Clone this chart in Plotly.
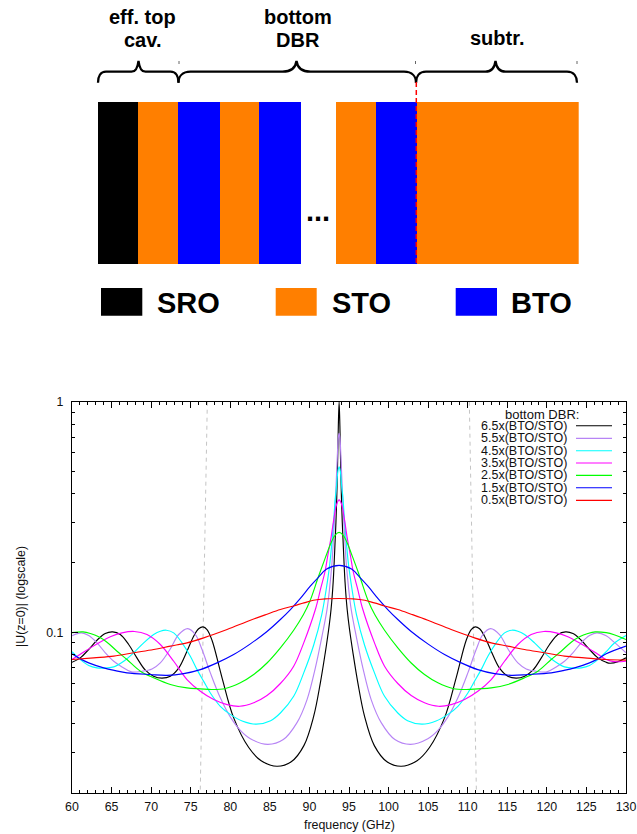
import plotly.graph_objects as go

# ---------- data: resonance curves (frequency in GHz, |U|) ----------
x_65 = [60,61.05,62.1,63.16,64.2,65.14,66.1,67.16,68.2,69.27,70.3,71.37,72.43,73.5,74.53,75.37,76.0,76.55,77.06,77.69,78.96,80.43,82.33,83.9,85.9,87.7,89.3,90.54,91.38,92.0,92.43,92.73,93.0,93.25,93.35,93.45,93.55,93.65,93.75,
        93.85,93.95,94.05,94.15,94.25,94.5,94.77,95.07,95.5,96.12,96.96,98.2,99.8,101.6,103.6,105.17,107.07,108.54,109.81,110.44,110.95,111.5,112.13,112.97,114.0,115.07,116.13,117.2,118.23,119.3,120.34,121.4,122.36,123.3,124.34,125.4,126.45,127.5,128,129,130]
y_65 = [.074,.0774,.0841,.0923,.0987,.1003,.0977,.0884,.0774,.0684,.0644,.0632,.0644,.07,.0827,.0961,.1035,.1055,.1027,.0923,.0634,.0425,.0316,.0277,.0262,.0274,.0322,.0432,.0603,.0814,.1027,.1254,.165,.25,.3,.38,.52,.78,1.0,
        .78,.52,.38,.3,.25,.165,.1254,.1027,.0814,.0603,.0432,.0322,.0274,.0262,.0277,.0316,.0425,.0634,.0923,.1027,.1055,.1035,.0961,.0827,.07,.0644,.0632,.0644,.0684,.0774,.0884,.0977,.1003,.0987,.0923,.0841,.0774,.074,.0733,.0745,.0774]

x_55 = [60,61.18,62.11,63.16,64.21,65.27,66.32,67.5,68.85,70.11,71.16,72.43,73.48,74.62,75.59,76.43,77.48,78.74,80.0,81.27,82.54,84.73,86.7,88.43,89.7,90.75,91.59,92.22,92.55,92.85,93.05,93.25,93.4,93.55,93.65,93.75,
        93.85,93.95,94.1,94.25,94.45,94.65,94.95,95.28,95.91,96.75,97.8,99.07,100.8,102.77,104.96,106.23,107.5,108.76,110.02,111.07,111.91,112.88,114.02,115.07,116.34,117.39,118.65,120,121.18,122.23,123.29,124.34,125.39,126.32,127.5,128.5,130]
y_55 = [.0965,.0993,.0967,.0899,.0814,.0748,.0707,.0673,.0677,.0693,.0736,.0847,.0977,.1037,.0977,.0841,.0666,.0519,.0429,.0375,.0345,.0326,.0342,.0405,.051,.07,.0961,.1254,.155,.2,.26,.35,.46,.61,.70,.73,
        .70,.61,.46,.35,.26,.2,.155,.1254,.0961,.07,.051,.0405,.0342,.0326,.0345,.0375,.0429,.0519,.0666,.0841,.0977,.1037,.0977,.0847,.0736,.0693,.0677,.0673,.0707,.0748,.0814,.0899,.0967,.0993,.0965,.0905,.0814]

x_45 = [60,61.05,62.11,63.16,64.0,65.27,66.53,67.79,69.06,70.32,71.16,71.92,72.85,73.9,74.95,75.8,76.64,77.48,78.74,80.0,81.5,83.29,85.1,86.33,88.01,89.28,90.54,91.55,92.1,92.6,93.05,93.25,93.45,93.6,93.75,
        93.9,94.05,94.25,94.45,94.9,95.4,95.95,96.96,98.22,99.49,101.17,102.4,104.21,106,107.5,108.76,110.02,110.86,111.7,112.55,113.6,114.65,115.58,116.34,117.18,118.44,119.71,120.97,122.23,123.5,124.34,125.39,126.45,127.5,128.5,130]
y_45 = [.0823,.0761,.0717,.07,.0698,.0707,.0748,.0814,.0899,.0977,.101,.102,.0993,.0899,.0787,.0688,.0612,.0545,.0477,.044,.0412,.0399,.0413,.0446,.0527,.0666,.088,.119,.152,.202,.30,.376,.44,.50,.522,
        .50,.44,.376,.30,.202,.152,.119,.088,.0666,.0527,.0446,.0413,.0399,.0412,.044,.0477,.0545,.0612,.0688,.0787,.0899,.0993,.102,.101,.0977,.0899,.0814,.0748,.0707,.0698,.07,.0717,.0761,.0823,.0895,.0967]

x_35 = [60,61.05,62.32,63.58,64.84,66.32,67.88,69.48,71.16,72.85,74.53,76.22,77.9,79.59,81.19,82.96,84.64,86.33,88.01,89.28,90.75,91.45,91.95,92.3,92.75,93.15,93.45,93.75,
        94.05,94.35,94.75,95.2,95.55,96.05,96.75,98.22,99.49,101.17,102.86,104.54,106.31,107.91,109.6,111.28,112.97,114.65,116.34,118.02,119.62,121.18,122.66,123.92,125.18,126.45,127.5,128.5,130]
y_35 = [.0761,.0802,.0855,.0907,.0955,.0993,.1007,.0977,.0884,.0748,.0623,.0554,.051,.0485,.0477,.0494,.0531,.0599,.0712,.0899,.1254,.156,.182,.213,.26,.32,.36,.375,
        .36,.32,.26,.213,.182,.156,.1254,.0899,.0712,.0599,.0531,.0494,.0477,.0485,.051,.0554,.0623,.0748,.0884,.0977,.1007,.0993,.0955,.0907,.0855,.0802,.0761,.0745,.0748]

x_25 = [60,61.39,62.32,63.37,64.42,65.69,66.95,68.64,70.32,72.43,74.53,76.22,77.69,79.38,81.27,82.96,84.64,86.33,88.01,89.23,90.08,91.13,92,92.75,93.25,93.75,
        94.25,94.75,95.5,96.37,97.42,98.27,99.49,101.17,102.86,104.54,106.23,108.12,109.81,111.28,112.97,115.07,117.18,118.86,120.55,121.81,123.08,124.13,125.18,126.11,127.5,128.5,130]
y_25 = [.0995,.1003,.0987,.0955,.0905,.0827,.0761,.0677,.0634,.0593,.0573,.0568,.0564,.057,.0603,.0655,.0735,.0855,.102,.119,.137,.174,.21,.245,.264,.271,
        .264,.245,.21,.174,.137,.119,.102,.0855,.0735,.0655,.0603,.057,.0564,.0568,.0573,.0593,.0634,.0677,.0761,.0827,.0905,.0955,.0987,.1003,.0995,.0975,.0929]

x_15 = [60,61.05,62.11,64,65.48,66.95,69.9,72,74.11,76.22,78.32,80.43,82.54,84.64,86.33,87.6,88.8,90.08,91.13,92.18,93.75,
        95.32,96.37,97.42,98.7,99.9,101.17,102.86,104.96,107.07,109.18,111.28,113.39,115.5,117.6,120.55,122.02,123.5,125.39,126.45,127.5,130]
y_15 = [.0806,.0766,.0736,.07,.0681,.0666,.0655,.065,.0661,.0688,.0736,.08,.089,.1007,.1135,.1254,.1395,.158,.173,.188,.195,
        .188,.173,.158,.1395,.1254,.1135,.1007,.089,.08,.0736,.0688,.0661,.065,.0655,.0666,.0681,.07,.0736,.0766,.0806,.087]

x_05 = [60,62.74,65.27,67.79,70.32,72.43,74.53,76.64,79.59,82.54,84.64,86.33,88,89.3,90.5,92,93.75,
        95.5,97,98.2,99.5,101.17,102.86,104.96,107.91,110.86,112.97,115.07,117.18,119.71,122.23,124.76,127.5,130]
y_05 = [.0761,.0774,.0787,.0814,.0841,.087,.0899,.0945,.1027,.1127,.1197,.1254,.13,.134,.1375,.1395,.14,
        .1395,.1375,.134,.13,.1254,.1197,.1127,.1027,.0945,.0899,.087,.0841,.0814,.0787,.0774,.0761,.0757]

series_names = ["6.5x(BTO/STO)","5.5x(BTO/STO)","4.5x(BTO/STO)","3.5x(BTO/STO)","2.5x(BTO/STO)","1.5x(BTO/STO)","0.5x(BTO/STO)"]
series_x = [x_65,x_55,x_45,x_35,x_25,x_15,x_05]
series_y = [y_65,y_55,y_45,y_35,y_25,y_15,y_05]
series_colors = ["#000000","#b784f5","#00ffff","#ff00ff","#00ff00","#0000ff","#ff0000"]
guide_x = [[77.1,76.2],[110.2,111.1]]
guide_y = [1,0.02]
x_ticks = list(range(60,131,5))

# schematic layer stack
layer_names  = ["SRO","STO","BTO","STO","BTO","gap","STO","BTO","STO"]
layer_widths = [40.3,40,41.3,39.7,41.3,35.4,40.3,40.3,162.4]
layer_colors = {"SRO":"#000000","STO":"#ff7f00","BTO":"#0000ff","gap":"#ffffff"}

W,H = 637,834
def px(v): return v/W
def py(v): return 1-v/H
FONT = "Liberation Sans"
REF = dict(xref="x3",yref="y3")

fig = go.Figure()
fig.add_trace(go.Scatter(x=[],y=[],xaxis="x3",yaxis="y3",showlegend=False))

for gx in guide_x:
    fig.add_trace(go.Scatter(x=gx,y=guide_y,mode="lines",line=dict(color="#c4c4c4",width=1,dash="4px,4px"),showlegend=False,hoverinfo="skip"))
for xs,ys,c,n in zip(series_x,series_y,series_colors,series_names):
    fig.add_trace(go.Scatter(x=xs,y=ys,mode="lines",name=n,line=dict(color=c,width=1.15,shape="spline",smoothing=1),showlegend=False))

for w,n in zip(layer_widths,layer_names):
    fig.add_trace(go.Bar(x=[w],y=[0],orientation="h",width=1,marker=dict(color=layer_colors[n],line=dict(width=0)),xaxis="x2",yaxis="y2",showlegend=False,hoverinfo="skip"))

shapes=[]; ann=[]
def brace(x0,xm,x1,s,e,col="#000000"):
    y0,y1,y2=82.7,71.7,61
    a=lambda x,y:f"{x} {y}"
    d=(f"M {a(x0,y0)} C {a(x0,y0-6)} {a(x0+e*0.3,y1)} {a(x0+e,y1)} "
       f"L {a(xm-s,y1)} C {a(xm-s*0.4,y1)} {a(xm-1,y1-3)} {a(xm,y2)} "
       f"C {a(xm+1,y1-3)} {a(xm+s*0.4,y1)} {a(xm+s,y1)} "
       f"L {a(x1-e,y1)} C {a(x1-e*0.3,y1)} {a(x1,y0-6)} {a(x1,y0)}")
    shapes.append(dict(type="path",path=d,**REF,line=dict(color=col,width=2.3),layer="above"))
brace(98,138.5,178.5,7,8)
brace(178.5,296.5,416,14,12)
brace(416,495.5,577,10,10)
for x in (179,415.5,577):
    shapes.append(dict(type="line",**REF,x0=x,x1=x,y0=61,y1=64,line=dict(color="#666666",width=1)))
shapes.append(dict(type="line",**REF,x0=416.3,x1=416.3,y0=82,y1=264,line=dict(color="#ff0000",width=1.5,dash="5px,3px"),layer="above"))
for (x0,x1,c) in [(101,142.3,"#000000"),(275.7,316.7,"#ff7f00"),(455.7,497,"#0000ff")]:
    shapes.append(dict(type="rect",**REF,x0=x0,x1=x1,y0=288,y1=315.7,fillcolor=c,line=dict(width=0)))

def text(s,x,y,size,bold=False,rot=0,xa="center",col="#000000"):
    ann.append(dict(text=f"<b>{s}</b>" if bold else s,x=x,y=y,**REF,xanchor=xa,yanchor="middle",
                    showarrow=False,textangle=rot,font=dict(family=FONT,size=size,color=col)))
text("eff. top",142.7,17,20,True); text("cav.",142.7,40,20,True)
text("bottom",297.5,17,20,True); text("DBR",297.5,40,20,True)
text("subtr.",497.3,38,20,True)
text("...",318,211,29,True)
text("SRO",188,303,29,True); text("STO",361,303,29,True); text("BTO",541.5,303,29,True)
text("bottom DBR:",541.5,414,13,col="#111111")
key_y=[425.7,438.3,450.7,463,475.3,487.7,500.3]
for n,c,yy in zip(series_names,series_colors,key_y):
    text(n,569,yy,12.5,xa="right",col="#111111")
    shapes.append(dict(type="line",**REF,x0=576,x1=612,y0=yy,y1=yy,line=dict(color=c,width=1.15),layer="above"))
text("frequency (GHz)",349,824.5,12.4,col="#111111")
text("|U(z=0)| (logscale)",21,597,12.4,rot=-90,col="#111111")

axis_line=dict(showline=True,linecolor="#000000",linewidth=1.3,mirror="ticks",showgrid=False,zeroline=False,ticks="inside",ticklen=6,tickcolor="#000000",tickwidth=1,tickfont=dict(family=FONT,size=12.4,color="#111111"))
fig.update_layout(
    width=W,height=H,margin=dict(l=0,r=0,t=0,b=0,pad=0,autoexpand=False),paper_bgcolor="#ffffff",plot_bgcolor="rgba(0,0,0,0)",
    barmode="stack",bargap=0,showlegend=False,shapes=shapes,annotations=ann,
    xaxis=dict(domain=[px(72),px(626)],range=[60,130],tickmode="array",tickvals=x_ticks,ticktext=[str(t) for t in x_ticks],ticklabelstandoff=2,
               minor=dict(ticks="inside",ticklen=3,dtick=1,tickcolor="#000000",tickwidth=1),anchor="y",**axis_line),
    yaxis=dict(domain=[py(793.3),py(401.7)],type="log",range=[-1.69897,0],tickmode="array",tickvals=[0.1,1],ticktext=["0.1","1"],ticklabelstandoff=5,
               minor=dict(ticks="inside",ticklen=3,dtick="D1",tickcolor="#000000",tickwidth=1),anchor="x",**axis_line),
    xaxis2=dict(domain=[px(97.7),px(578.7)],range=[0,sum(layer_widths)],visible=False,anchor="y2"),
    yaxis2=dict(domain=[py(264.3),py(102)],range=[-0.5,0.5],visible=False,anchor="x2"),
    xaxis3=dict(domain=[0,1],range=[0,W],visible=False,anchor="y3"),
    yaxis3=dict(domain=[0,1],range=[H,0],visible=False,anchor="x3"),
)
fig.write_html("out.html",config={"displayModeBar":False},post_script="document.body.style.margin='0';")
